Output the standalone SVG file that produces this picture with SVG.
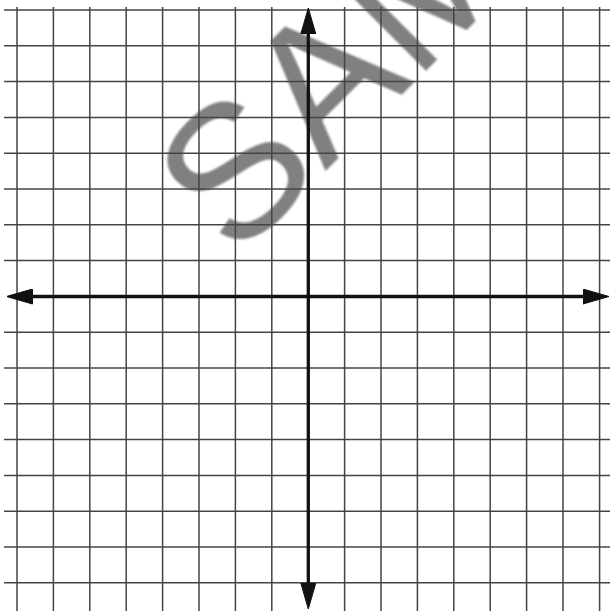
<svg xmlns="http://www.w3.org/2000/svg" width="610" height="611" viewBox="0 0 610 611">
  <style>
    .grid line { stroke: #444; stroke-width: 1.5; }
    .axis { stroke: #111; stroke-width: 3.3; fill: none; }
    .wm { font-family: "Liberation Sans", Arial, sans-serif; font-size: 190px; fill: #808080; }
  </style>
  <defs>
    <marker id="arrow" markerUnits="userSpaceOnUse" viewBox="0 0 26 16" refX="1" refY="8" markerWidth="26" markerHeight="16" orient="auto-start-reverse">
      <path d="M0,0.5 L26,8 L0,15.5 z" fill="#111" stroke="#111" stroke-width="1" stroke-linejoin="miter"/>
    </marker>
    <filter id="soft" x="-5%" y="-5%" width="110%" height="110%">
      <feGaussianBlur stdDeviation="0.9"/>
    </filter>
  </defs>
  <rect width="610" height="611" fill="#fff"/>
  <g id="watermark" filter="url(#soft)">
    <text class="wm" transform="translate(235.7,260.9) rotate(-45)">SAM</text>
  </g>
  <g id="grid" class="grid">
    <line x1="17" y1="7" x2="17" y2="611"/>
    <line x1="53.4" y1="7" x2="53.4" y2="611"/>
    <line x1="89.8" y1="7" x2="89.8" y2="611"/>
    <line x1="126.2" y1="7" x2="126.2" y2="611"/>
    <line x1="162.6" y1="7" x2="162.6" y2="611"/>
    <line x1="199" y1="7" x2="199" y2="611"/>
    <line x1="235.4" y1="7" x2="235.4" y2="611"/>
    <line x1="271.8" y1="7" x2="271.8" y2="611"/>
    <line x1="344.6" y1="7" x2="344.6" y2="611"/>
    <line x1="381" y1="7" x2="381" y2="611"/>
    <line x1="417.4" y1="7" x2="417.4" y2="611"/>
    <line x1="453.8" y1="7" x2="453.8" y2="611"/>
    <line x1="490.2" y1="7" x2="490.2" y2="611"/>
    <line x1="526.6" y1="7" x2="526.6" y2="611"/>
    <line x1="563" y1="7" x2="563" y2="611"/>
    <line x1="599.6" y1="7" x2="599.6" y2="611"/>
    <line x1="4" y1="10" x2="610" y2="10"/>
    <line x1="4" y1="45.8" x2="610" y2="45.8"/>
    <line x1="4" y1="81.6" x2="610" y2="81.6"/>
    <line x1="4" y1="117.4" x2="610" y2="117.4"/>
    <line x1="4" y1="153.2" x2="610" y2="153.2"/>
    <line x1="4" y1="189" x2="610" y2="189"/>
    <line x1="4" y1="224.8" x2="610" y2="224.8"/>
    <line x1="4" y1="260.6" x2="610" y2="260.6"/>
    <line x1="4" y1="332.2" x2="610" y2="332.2"/>
    <line x1="4" y1="368" x2="610" y2="368"/>
    <line x1="4" y1="403.8" x2="610" y2="403.8"/>
    <line x1="4" y1="439.6" x2="610" y2="439.6"/>
    <line x1="4" y1="475.4" x2="610" y2="475.4"/>
    <line x1="4" y1="511.2" x2="610" y2="511.2"/>
    <line x1="4" y1="547" x2="610" y2="547"/>
    <line x1="4" y1="582.8" x2="610" y2="582.8"/>
  </g>
  <g id="axes">
    <line class="axis" x1="308.3" y1="33" x2="308.3" y2="584" marker-start="url(#arrow)" marker-end="url(#arrow)"/>
    <line class="axis" x1="31.5" y1="296.5" x2="584" y2="296.5" marker-start="url(#arrow)" marker-end="url(#arrow)"/>
  </g>
</svg>
